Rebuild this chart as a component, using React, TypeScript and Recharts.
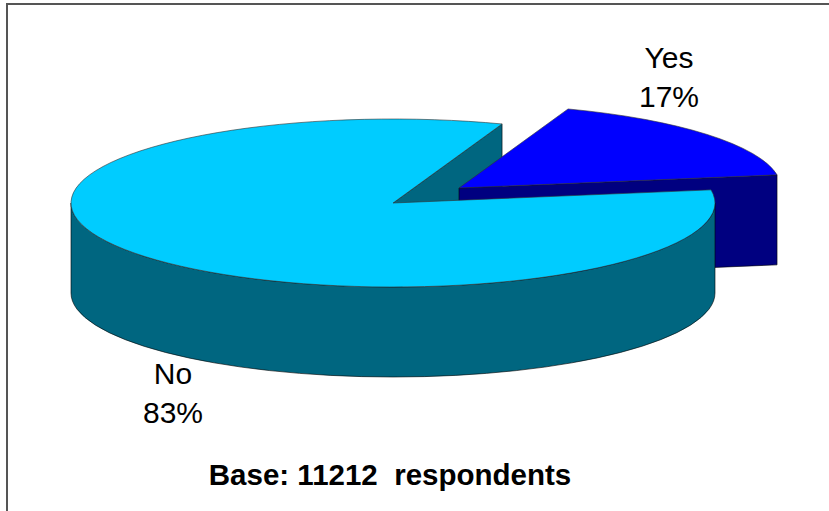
import { PieChart, Pie, Cell } from 'recharts'

const categories = ['Yes', 'No']
const shares = [17, 83]
const topColors = ['#0000ff', '#00ccff']
const sideColors = ['#000080', '#006680']
const title = 'Base: 11212  respondents'

const chartData = categories.map((name, i) => ({ name, value: shares[i] }))

const FONT = '"Liberation Sans", Arial, sans-serif'
const SQUASH = 84 / 322
const DEPTH = 90
const EXPLODE_X = 66
const EXPLODE_Y = -15

const RAD = Math.PI / 180

function point(cx: number, cy: number, r: number, deg: number) {
  return { x: cx + r * Math.cos(deg * RAD), y: cy - r * SQUASH * Math.sin(deg * RAD) }
}

// elliptical slice with a wall, angles come from the Pie itself
function SliceShape(props: any) {
  const { cx, cy, outerRadius: r, startAngle, endAngle, index } = props
  const x0 = index === 0 ? cx + EXPLODE_X : cx
  const y0 = index === 0 ? cy + EXPLODE_Y : cy
  const ry = r * SQUASH
  const a = point(x0, y0, r, startAngle)
  const b = point(x0, y0, r, endAngle)
  const large = endAngle - startAngle > 180 ? 1 : 0
  const top = `M${x0},${y0} L${a.x},${a.y} A${r},${ry} 0 ${large} 0 ${b.x},${b.y} Z`

  let wall = ''
  if (index === 0) {
    // front cut face of the pulled out slice
    wall = `M${x0},${y0} L${a.x},${a.y} L${a.x},${a.y + DEPTH} L${x0},${y0 + DEPTH} Z`
  } else {
    // only the front half of the rim shows
    const l = point(x0, y0, r, 180)
    const rr = point(x0, y0, r, 360)
    wall =
      `M${l.x},${l.y} A${r},${ry} 0 0 0 ${rr.x},${rr.y} L${rr.x},${rr.y + DEPTH} ` +
      `A${r},${ry} 0 0 1 ${l.x},${l.y + DEPTH} Z`
  }

  return (
    <g>
      <path d={wall} fill={sideColors[index]} stroke="#000" strokeWidth={0.6} />
      <path d={top} fill={topColors[index]} stroke="#333" strokeWidth={0.6} />
    </g>
  )
}

// inner cut face of the big slice, has to sit behind the pulled out slice
function BackFace(props: any) {
  const { cx, cy, outerRadius: r, startAngle, index } = props
  if (index !== 1) return <g />
  const a = point(cx, cy, r, startAngle)
  return (
    <path
      d={`M${cx},${cy} L${a.x},${a.y} L${a.x},${a.y + DEPTH} L${cx},${cy + DEPTH} Z`}
      fill={sideColors[1]}
      stroke="#000"
      strokeWidth={0.6}
    />
  )
}

const labelSpots: Record<string, { x: number; y: number }> = {
  Yes: { x: 669, y: 68 },
  No: { x: 173, y: 384 },
}

function SliceLabel(props: any) {
  const spot = labelSpots[props.name]
  return (
    <text x={spot.x} textAnchor="middle" fontFamily={FONT} fontSize={30} fill="#000">
      <tspan x={spot.x} y={spot.y}>{props.name}</tspan>
      <tspan x={spot.x} y={spot.y + 39}>{`${props.value}%`}</tspan>
    </text>
  )
}

export default function App() {
  return (
    <div style={{ position: 'absolute', left: 0, top: 0, width: 829, height: 511, background: '#fff', overflow: 'hidden' }}>
      <div style={{ position: 'absolute', left: 6, top: 3, width: 823, height: 508, borderLeft: '2px solid #555', borderTop: '2px solid #555', boxSizing: 'border-box' }} />
      <div style={{ position: 'absolute', left: 0, top: 0 }}>
        <PieChart width={829} height={511} margin={{ top: 0, right: 0, bottom: 0, left: 0 }}>
          <Pie
            data={chartData}
            dataKey="value"
            cx={393}
            cy={203}
            innerRadius={0}
            outerRadius={322}
            startAngle={9}
            endAngle={369}
            paddingAngle={0}
            stroke="none"
            shape={BackFace}
            isAnimationActive={false}
          />
          <Pie
            data={chartData}
            dataKey="value"
            cx={393}
            cy={203}
            innerRadius={0}
            outerRadius={322}
            startAngle={9}
            endAngle={369}
            paddingAngle={0}
            shape={SliceShape}
            label={SliceLabel}
            labelLine={false}
            isAnimationActive={false}
          >
            {chartData.map((d, i) => (
              <Cell key={d.name} fill={topColors[i]} />
            ))}
          </Pie>
          <text x={390} y={485} textAnchor="middle" fontFamily={FONT} fontSize={29.5} fontWeight="bold" fill="#000" style={{ whiteSpace: 'pre' }}>
            {title}
          </text>
        </PieChart>
      </div>
    </div>
  )
}
